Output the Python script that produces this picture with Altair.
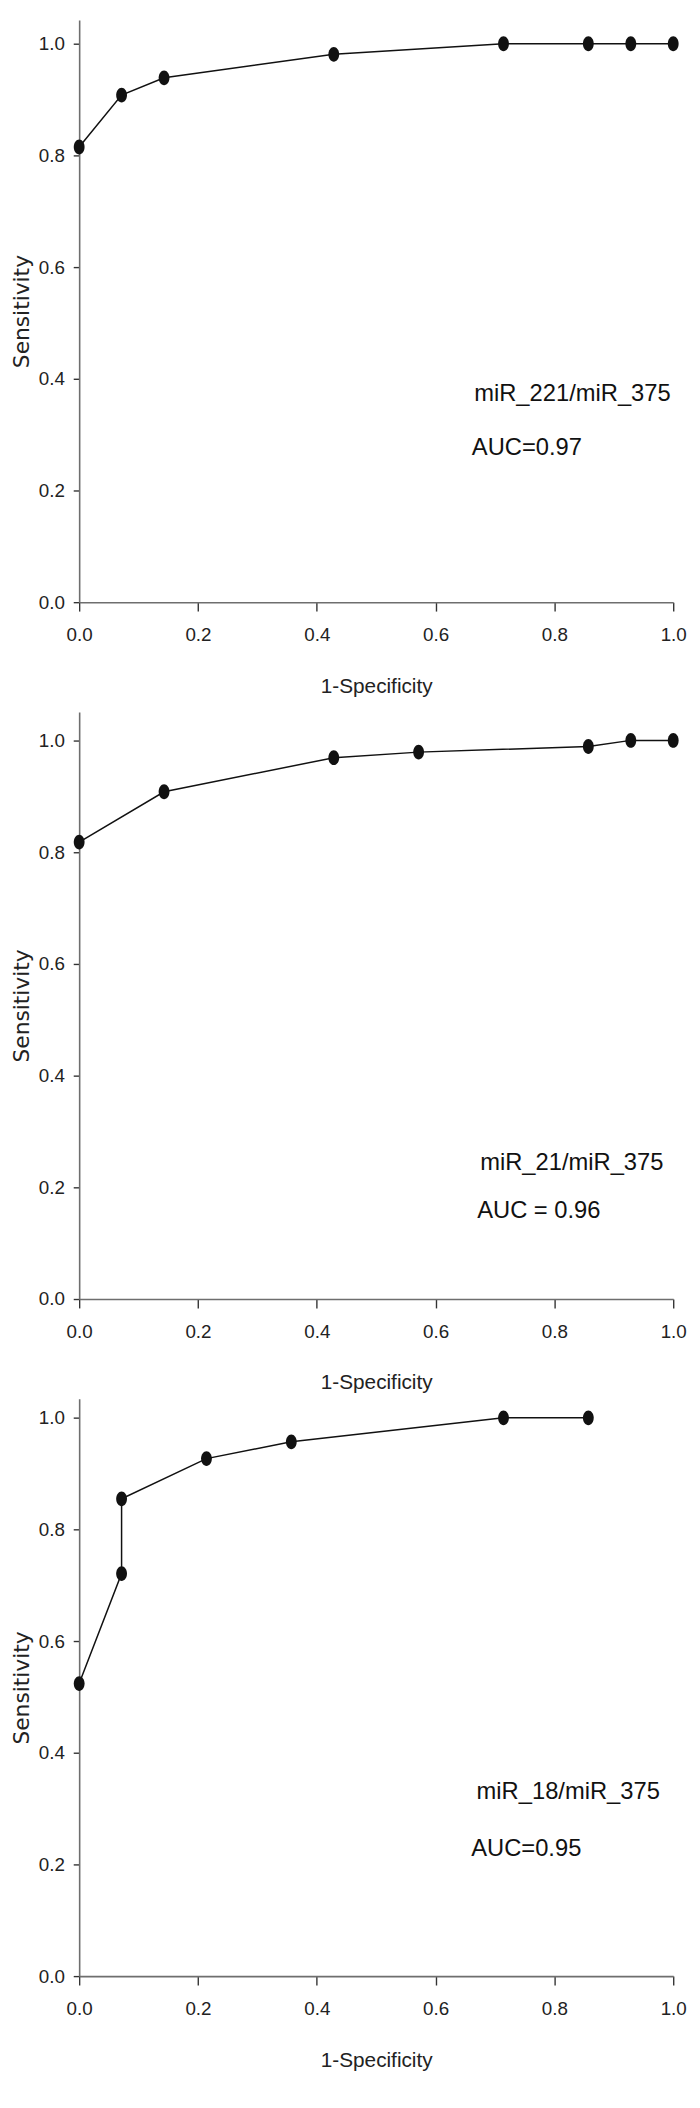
import altair as alt
import pandas as pd

# ---- data (x = 1-Specificity, y = Sensitivity) ----
P1_FPR = [0.0, 0.0714, 0.1429, 0.4286, 0.7143, 0.8571, 0.9286, 1.0]
P1_TPR = [0.815, 0.908, 0.939, 0.981, 1.0, 1.0, 1.0, 1.0]

P2_FPR = [0.0, 0.1429, 0.4286, 0.5714, 0.8571, 0.9286, 1.0]
P2_TPR = [0.818, 0.908, 0.969, 0.979, 0.989, 1.0, 1.0]

P3_FPR = [0.0, 0.0714, 0.0714, 0.2143, 0.3571, 0.7143, 0.8571]
P3_TPR = [0.524, 0.721, 0.855, 0.927, 0.957, 1.0, 1.0]

PAIR_LABELS = ["miR_221/miR_375", "miR_21/miR_375", "miR_18/miR_375"]
AUC_LABELS = ["AUC=0.97", "AUC = 0.96", "AUC=0.95"]

# annotation anchor points (data units)
LABEL_X = [0.665, 0.675, 0.669]
LABEL_Y = [0.360, 0.231, 0.318]
AUC_X = [0.661, 0.670, 0.660]
AUC_Y = [0.263, 0.145, 0.215]

TICKS = [0.0, 0.2, 0.4, 0.6, 0.8, 1.0]

SANS = "Liberation Sans, Arial, sans-serif"
ELLIPSE = "M-0.73,0A0.73,1,0,1,0,0.73,0A0.73,1,0,1,0,-0.73,0Z"
PX_PER_UNIT = 565


def panel(i, fpr, tpr, ymax):
    df = pd.DataFrame({"fpr": fpr, "tpr": tpr, "idx": list(range(len(fpr)))})
    ann = pd.DataFrame({
        "fpr": [LABEL_X[i], AUC_X[i]],
        "tpr": [LABEL_Y[i], AUC_Y[i]],
        "t": [PAIR_LABELS[i], AUC_LABELS[i]],
    })
    x = alt.X("fpr:Q", scale=alt.Scale(domain=[0, 1], nice=False, zero=False),
              axis=alt.Axis(title="1-Specificity", values=TICKS, format=".1f",
                            labelFlush=False))
    y = alt.Y("tpr:Q", scale=alt.Scale(domain=[0, ymax], nice=False, zero=False),
              axis=alt.Axis(title="Sensitivity", values=TICKS, format=".1f",
                            labelFlush=False))
    line = alt.Chart(df).mark_line(color="#111111", strokeWidth=1.5).encode(
        x=x, y=y, order="idx:Q")
    pts = alt.Chart(df).mark_point(shape=ELLIPSE, filled=True, size=225,
                                   color="#111111", opacity=1).encode(
        x="fpr:Q", y="tpr:Q")
    txt = alt.Chart(ann).mark_text(align="left", baseline="alphabetic", font=SANS,
                                   fontSize=24, color="#111111").encode(
        x="fpr:Q", y="tpr:Q", text="t:N")
    return alt.layer(line, pts, txt).properties(
        width=601, height=round(PX_PER_UNIT * ymax))


p1 = panel(0, P1_FPR, P1_TPR, 1.0425)
p2 = panel(1, P2_FPR, P2_TPR, 1.051)
p3 = panel(2, P3_FPR, P3_TPR, 1.034)

chart = alt.vconcat(
    alt.vconcat(p1, p2, spacing=16), p3, spacing=6
).properties(
    padding={"left": 2, "top": 0, "right": 5, "bottom": 0}
).configure_view(
    stroke=None
).configure_axis(
    grid=False,
    domainColor="#6e6e6e",
    domainWidth=1.6,
    tickColor="#333333",
    tickWidth=1.4,
    labelFont=SANS,
    labelFontSize=19,
    labelColor="#222222",
    titleColor="#222222",
    titleFontWeight="normal",
).configure_axisX(
    tickSize=9,
    labelPadding=15,
    titleFont=SANS,
    titleFontSize=21,
    titlePadding=31,
).configure_axisY(
    tickSize=6,
    labelPadding=9,
    titleFont="DejaVu Sans",
    titleFontSize=22,
    titlePadding=5,
)

chart.save("out.html", embed_options={"renderer": "svg", "actions": False})
